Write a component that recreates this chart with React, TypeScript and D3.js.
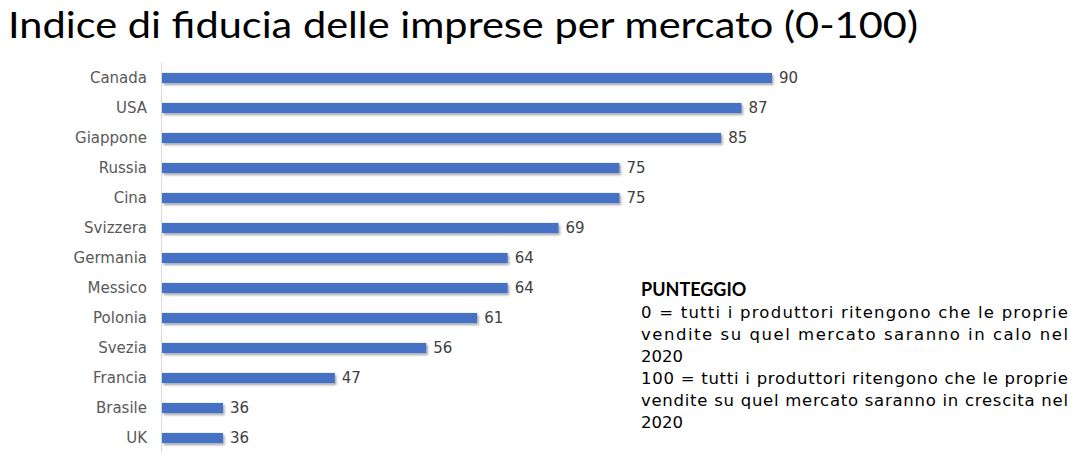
import React from "react";
import * as d3 from "d3";

const countries = ["Canada", "USA", "Giappone", "Russia", "Cina", "Svizzera", "Germania", "Messico", "Polonia", "Svezia", "Francia", "Brasile", "UK"];
const values = [90, 87, 85, 75, 75, 69, 64, 64, 61, 56, 47, 36, 36];
const titleText = "Indice di fiducia delle imprese per mercato (0-100)";
const noteTitle = "PUNTEGGIO";
const noteLines: { text: string; justify: boolean }[] = [
  { text: "0 = tutti i produttori ritengono che le proprie", justify: true },
  { text: "vendite su quel mercato saranno in calo nel", justify: true },
  { text: "2020", justify: false },
  { text: "100 = tutti i produttori ritengono che le proprie", justify: true },
  { text: "vendite su quel mercato saranno in crescita nel", justify: true },
  { text: "2020", justify: false },
];

const W = 1082, H = 463;
const FONT = "'Lato', 'DejaVu Sans', sans-serif";
const FONT2 = "'DejaVu Sans', sans-serif";

export default function App() {
  const x = d3.scaleLinear().domain([30, 90]).range([162, 772]);
  const y = d3.scaleBand().domain(countries).range([63, 453]).paddingInner(0.66).paddingOuter(0.33);
  const bh = y.bandwidth();
  return (
    <svg width={W} height={H} style={{ position: "absolute", left: 0, top: 0, background: "#fff" }}>
      <defs>
        <filter id="sh" x="-5%" y="-50%" width="110%" height="250%">
          <feDropShadow dx="1.5" dy="2" stdDeviation="1" floodColor="#000" floodOpacity="0.35" />
        </filter>
      </defs>
      <rect width={W} height={H} fill="#fff" />
      <text x={8} y={38} fontFamily={FONT} fontSize={36} fill="#000" textLength={910} lengthAdjust="spacingAndGlyphs">{titleText}</text>
      <line x1={161.5} x2={161.5} y1={63} y2={453} stroke="#d9d9d9" strokeWidth={1} />
      {countries.map((c, i) => {
        const yy = y(c)!;
        const cy = yy + bh / 2;
        return (
          <g key={c}>
            <rect x={x(30)} y={yy} width={x(values[i]) - x(30)} height={bh} fill="#4472C4" filter="url(#sh)" />
            <text x={147} y={cy} dy="0.36em" textAnchor="end" fontFamily={FONT2} fontSize={15} fill="#595959">{c}</text>
            <text x={x(values[i]) + 7} y={cy} dy="0.36em" fontFamily={FONT2} fontSize={15} fill="#404040">{values[i]}</text>
          </g>
        );
      })}
      <text x={641} y={296} fontFamily={FONT} fontSize={18} fontWeight="bold" fill="#000">{noteTitle}</text>
      {noteLines.map((l, i) => (
        <text key={i} x={641} y={318 + i * 22} fontFamily={FONT2} fontSize={16.5} fill="#000"
          textLength={l.justify ? 427 : undefined} lengthAdjust="spacing">{l.text}</text>
      ))}
    </svg>
  );
}
